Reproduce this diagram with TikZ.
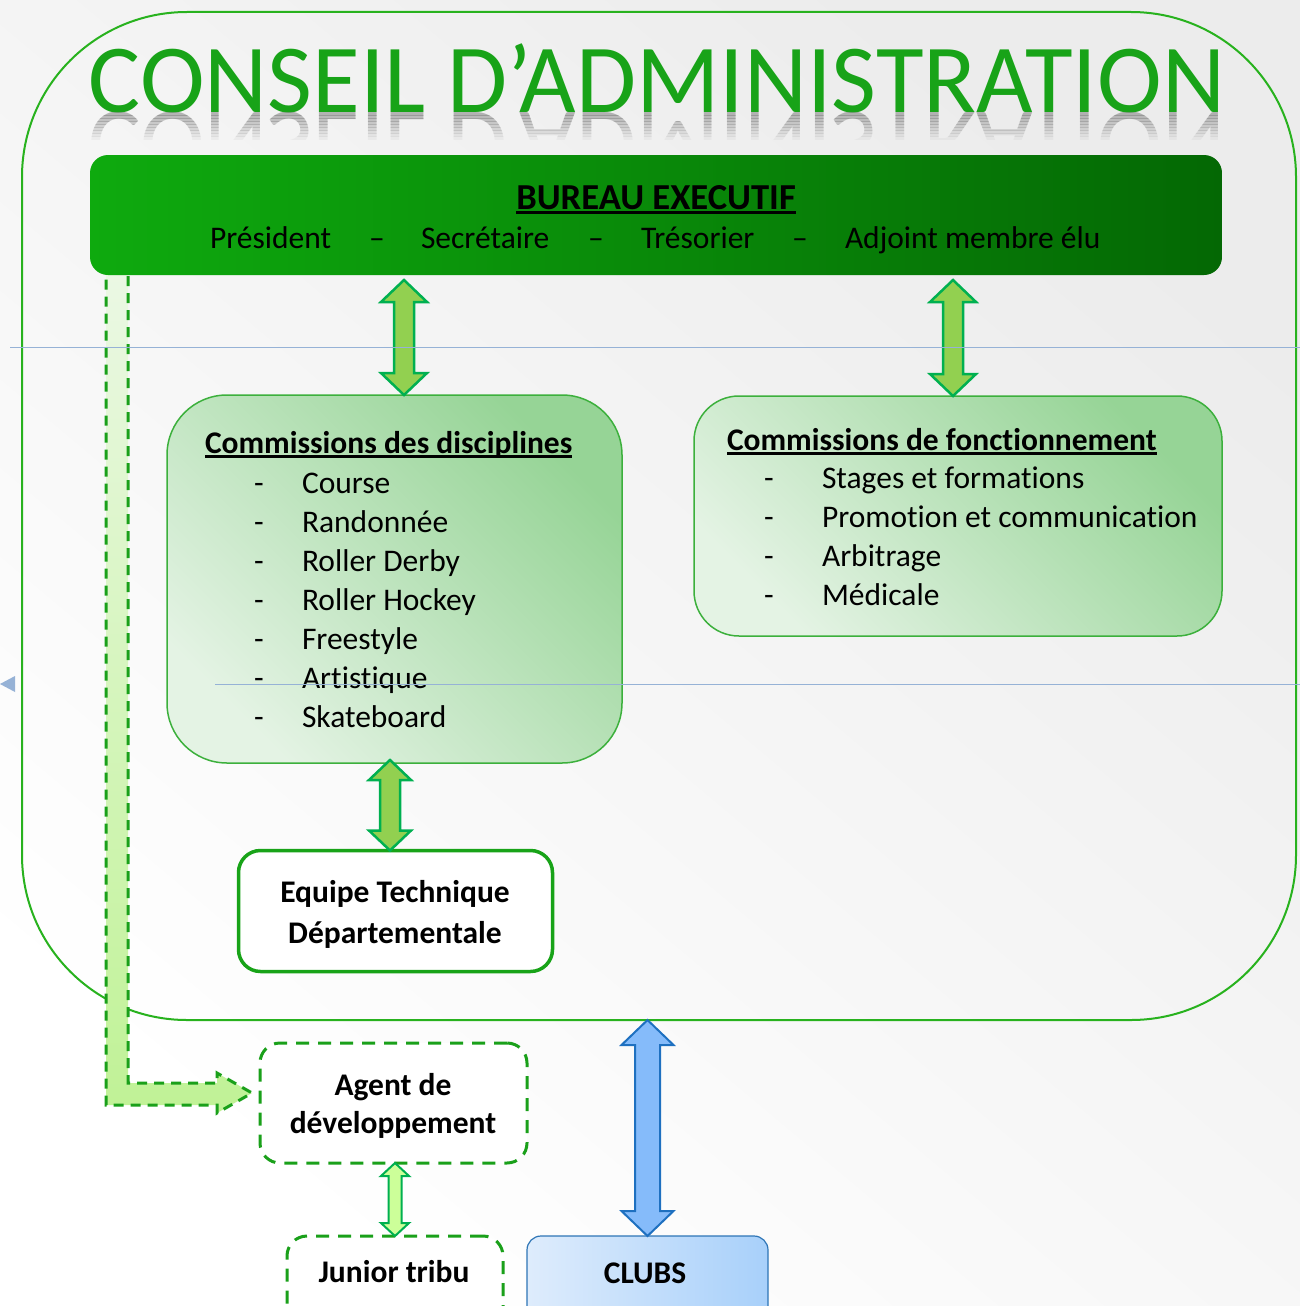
\documentclass[tikz,border=0pt]{standalone}
\usepackage{fontspec}
\setmainfont[Ligatures={NoCommon,NoContextual,NoDiscretionary},Contextuals=NoAlternate]{Carlito}
\usetikzlibrary{calc}
\definecolor{titlegreen}{RGB}{24,163,24}
\definecolor{outergreen}{RGB}{40,178,30}
\definecolor{bureauL}{RGB}{14,170,14}
\definecolor{bureauR}{RGB}{4,104,4}
\definecolor{arrowfill}{RGB}{146,208,80}
\definecolor{arrowline}{RGB}{0,176,80}
\definecolor{boxdark}{RGB}{150,212,150}
\definecolor{boxlight}{RGB}{228,243,228}
\definecolor{boxline}{RGB}{60,176,60}
\definecolor{dashgreen}{RGB}{26,160,26}
\definecolor{paleA}{RGB}{235,248,228}
\definecolor{paleB}{RGB}{192,242,150}
\definecolor{smallfill}{RGB}{204,255,153}
\definecolor{bluefill}{RGB}{133,187,250}
\definecolor{blueline}{RGB}{30,112,192}
\definecolor{clubL}{RGB}{222,236,252}
\definecolor{clubR}{RGB}{168,208,250}
\definecolor{clubline}{RGB}{46,117,182}
\definecolor{guide}{RGB}{150,178,214}
\newcommand\ulx[1]{\setbox0\hbox{#1}\rlap{\rule[-4.5pt]{\wd0}{2.5pt}}\box0}
\newcommand\vdarrow[6]{%
  \draw[#1] let \p1=(#2), \p2=(#3) in
  (\x1,\y1) -- (\x1+#5,\y1-#6) -- (\x1+#4,\y1-#6) -- (\x1+#4,\y2+#6)
  -- (\x1+#5,\y2+#6) -- (\x1,\y2) -- (\x1-#5,\y2+#6) -- (\x1-#4,\y2+#6)
  -- (\x1-#4,\y1-#6) -- (\x1-#5,\y1-#6) -- cycle;}
\tikzset{
  txt/.style={font=\fontsize{31.5}{38}\selectfont, inner sep=0, outer sep=0},
  btxt/.style={font=\fontsize{31.5}{38}\selectfont\bfseries, inner sep=0, outer sep=0},
  plainbox/.style={rectangle, inner sep=0, outer sep=0},
  commbox/.style={plainbox, draw=boxline, line width=1.5, top color=boxdark, bottom color=boxlight, shading angle=-45},
  dashbox/.style={plainbox, draw=dashgreen, fill=white, line width=3, dash pattern=on 13pt off 9pt, rounded corners=20},
  greenarrow/.style={fill=arrowfill, draw=arrowline, line width=2.5, line join=miter},
  smallarrow/.style={fill=smallfill, draw=arrowline, line width=2, line join=miter},
  bluearrow/.style={fill=bluefill, draw=blueline, line width=2, line join=miter},
  guideline/.style={draw=guide, line width=1}
}
\begin{document}
\begin{tikzpicture}[x=1pt,y=-1pt]
\clip (0,0) rectangle (1300,1306);
% background
\shade[top color=gray!15, bottom color=white, shading angle=-40] (0,0) rectangle (1300,1306);
% outer frame
\node[plainbox, draw=outergreen, line width=2, rounded corners=165, minimum width=1274, minimum height=1008] (ca) at (659,516) {};
% title and reflection
\node[inner sep=0, anchor=base, text=titlegreen, font=\fontsize{97.6}{98}\selectfont] (title) at (657,112) {CONSEIL D’ADMINISTRATION};
\foreach \i in {0,...,8}{
  \pgfmathsetmacro\op{0.55-0.06*\i}
  \begin{scope}
    \clip (60,112+3*\i) rectangle (1260,115+3*\i);
    \begin{scope}[shift={(657,112)}, yscale=-1, transform shape]
      \node[inner sep=0, anchor=base, text=gray, opacity=\op, font=\fontsize{97.6}{98}\selectfont] (refl\i) at (0,0) {CONSEIL D’ADMINISTRATION};
    \end{scope}
  \end{scope}
}
% dashed arrow to agent
\coordinate (dstart) at (106,272);
\coordinate (dtip) at (252,1093);
\path[top color=paleA, bottom color=paleB] (dstart) -- (128,272) -- (128,1083) -- (217,1083) -- (217,1073) -- (dtip) -- (217,1113) -- (217,1105) -- (106,1105) -- cycle;
\draw[draw=dashgreen, line width=3, dash pattern=on 10pt off 7pt] (128,276) -- (128,1083) -- (217,1083) -- (217,1073) -- (dtip) -- (217,1113) -- (217,1105) -- (106,1105) -- (106,276);
% bureau
\node[plainbox, left color=bureauL, right color=bureauR, rounded corners=18, minimum width=1132, minimum height=120] (bureau) at (656,215) {};
\node[btxt, font=\fontsize{36.6}{40}\selectfont\bfseries, anchor=base] (bt) at (656,209) {\ulx{BUREAU EXECUTIF}};
\node[txt, anchor=base west] (b1) at (210,248) {Président};
\node[txt, anchor=base] (s1) at (377,248) {–};
\node[txt, anchor=base west] (b2) at (421,248) {Secrétaire};
\node[txt, anchor=base] (s2) at (596,248) {–};
\node[txt, anchor=base west] (b3) at (641,248) {Trésorier};
\node[txt, anchor=base] (s3) at (800,248) {–};
\node[txt, anchor=base west] (b4) at (845,248) {Adjoint membre élu};
% commissions des disciplines
\node[commbox, rounded corners=60, minimum width=455, minimum height=368] (disc) at (394.5,579) {};
\node[btxt, anchor=base west] (dt) at (205,453) {\ulx{Commissions des disciplines}};
\foreach \t [count=\k] in {Course, Randonnée, Roller Derby, Roller Hockey, Freestyle, Artistique, Skateboard}{
  \node[txt, anchor=base west] (dh\k) at (254,454+39*\k) {-};
  \node[txt, anchor=base west] (d\k) at (302,454+39*\k) {\t};
}
% commissions de fonctionnement
\node[commbox, rounded corners=45, minimum width=528, minimum height=240] (fonct) at (958,516) {};
\node[btxt, anchor=base west] (ft) at (727,450) {\ulx{Commissions de fonctionnement}};
\foreach \t [count=\k] in {Stages et formations, Promotion et communication, Arbitrage, Médicale}{
  \node[txt, anchor=base west] (fh\k) at (764,449+39*\k) {-};
  \node[txt, anchor=base west] (f\k) at (822,449+39*\k) {\t};
}
% equipe technique
\node[plainbox, draw=titlegreen, fill=white, line width=3.5, rounded corners=22, minimum width=314, minimum height=121] (equipe) at (395.5,911) {};
\node[btxt, anchor=base] (e1) at (395,902) {Equipe Technique};
\node[btxt, anchor=base] (e2) at (395,943) {Départementale};
% agent / junior / clubs
\node[dashbox, minimum width=267, minimum height=120] (agent) at (393.5,1103) {};
\node[btxt, anchor=base] (ag1) at (393,1095) {Agent de};
\node[btxt, anchor=base] (ag2) at (393,1133) {développement};
\node[dashbox, minimum width=216, minimum height=90] (junior) at (395,1281) {};
\node[btxt, anchor=base] (jt) at (394,1282) {Junior tribu};
\node[plainbox, draw=clubline, line width=1.2, left color=clubL, right color=clubR, rounded corners=14, minimum width=241, minimum height=90] (clubs) at (647.5,1281) {};
\node[btxt, anchor=base] (ct) at (645,1283) {CLUBS};
% arrows
\coordinate (a1) at (404,280);
\coordinate (a2) at (953,280);
\coordinate (a3) at (390,760);
\coordinate (a5) at (395,1163);
\vdarrow{greenarrow}{a1}{a1 |- disc.north}{10pt}{23pt}{22pt}
\vdarrow{greenarrow}{a2}{a2 |- fonct.north}{10pt}{23pt}{22pt}
\vdarrow{greenarrow}{a3}{a3 |- equipe.north}{10pt}{21pt}{20pt}
\vdarrow{smallarrow}{a5}{a5 |- junior.north}{6.5pt}{14pt}{13pt}
\vdarrow{bluearrow}{clubs.north |- ca.south}{clubs.north}{12.5pt}{26pt}{25pt}
% slide guides
\coordinate (g1a) at (10,347);
\coordinate (g1b) at (1300,347);
\coordinate (g2a) at (215,684);
\coordinate (g2b) at (1300,684);
\draw[guideline] (g1a) -- (g1b);
\draw[guideline] (g2a) -- (g2b);
\fill[guide] (0,684) -- (15,676) -- (15,692) -- cycle;
\end{tikzpicture}
\end{document}
